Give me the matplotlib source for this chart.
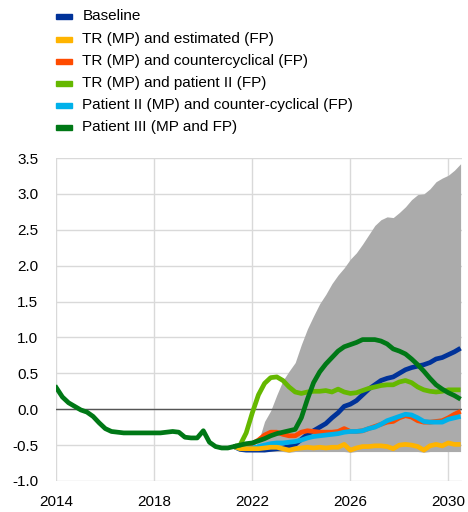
import numpy as np
import matplotlib
matplotlib.use("Agg")
import matplotlib.pyplot as plt
from matplotlib.patches import Rectangle

plt.rcParams['font.family'] = ['Liberation Sans', 'DejaVu Sans']
plt.rcParams['axes.unicode_minus'] = False

# ---------------- data ----------------
history = [0.30, 0.17, 0.09, 0.04, -0.01, -0.04, -0.10, -0.19, -0.27, -0.31,
           -0.32, -0.33, -0.33, -0.33, -0.33, -0.33, -0.33, -0.33, -0.32, -0.31,
           -0.32, -0.39, -0.40, -0.40, -0.30, -0.46, -0.52, -0.54, -0.54, -0.52]
history_start = 2014.0
proj_start = 2021.25

baseline = [-0.52, -0.56, -0.57, -0.57, -0.57, -0.57, -0.56, -0.55, -0.54, -0.52,
            -0.49, -0.42, -0.35, -0.30, -0.25, -0.20, -0.12, -0.05, 0.04, 0.07,
            0.12, 0.20, 0.28, 0.34, 0.40, 0.43, 0.45, 0.50, 0.55, 0.58,
            0.60, 0.62, 0.65, 0.70, 0.72, 0.76, 0.80, 0.85]
tr_estimated = [-0.52, -0.55, -0.55, -0.55, -0.55, -0.54, -0.53, -0.53, -0.55, -0.57,
                -0.55, -0.54, -0.53, -0.54, -0.53, -0.54, -0.53, -0.53, -0.49, -0.57,
                -0.54, -0.52, -0.52, -0.51, -0.51, -0.52, -0.55, -0.50, -0.49, -0.50,
                -0.52, -0.57, -0.51, -0.49, -0.51, -0.47, -0.49, -0.49]
tr_countercyclical = [-0.52, -0.54, -0.52, -0.48, -0.43, -0.36, -0.32, -0.32, -0.35, -0.37,
                      -0.37, -0.32, -0.30, -0.31, -0.32, -0.32, -0.32, -0.31, -0.27, -0.31,
                      -0.31, -0.30, -0.27, -0.24, -0.21, -0.18, -0.17, -0.12, -0.09, -0.11,
                      -0.16, -0.18, -0.18, -0.17, -0.16, -0.12, -0.07, -0.03]
tr_patient2 = [-0.52, -0.50, -0.33, -0.05, 0.20, 0.36, 0.44, 0.45, 0.40, 0.31,
               0.24, 0.22, 0.24, 0.25, 0.25, 0.26, 0.24, 0.28, 0.24, 0.22,
               0.23, 0.26, 0.29, 0.31, 0.33, 0.34, 0.34, 0.38, 0.40, 0.37,
               0.31, 0.27, 0.25, 0.24, 0.25, 0.27, 0.27, 0.27]
patient2_cc = [-0.52, -0.55, -0.55, -0.54, -0.52, -0.50, -0.48, -0.47, -0.47, -0.46,
               -0.45, -0.43, -0.40, -0.38, -0.37, -0.36, -0.35, -0.34, -0.32, -0.31,
               -0.31, -0.30, -0.27, -0.25, -0.21, -0.16, -0.13, -0.10, -0.07, -0.08,
               -0.12, -0.17, -0.18, -0.18, -0.18, -0.14, -0.12, -0.10]
patient3 = [-0.52, -0.50, -0.48, -0.47, -0.44, -0.41, -0.37, -0.34, -0.32, -0.30,
            -0.28, -0.12, 0.14, 0.37, 0.52, 0.63, 0.72, 0.81, 0.87, 0.90,
            0.93, 0.97, 0.97, 0.97, 0.95, 0.91, 0.84, 0.81, 0.77, 0.70,
            0.62, 0.53, 0.43, 0.34, 0.28, 0.23, 0.19, 0.14]
band_upper = [-0.52, -0.56, -0.57, -0.57, -0.45, -0.17, -0.02, 0.20, 0.40, 0.53,
              0.65, 0.90, 1.12, 1.30, 1.47, 1.60, 1.75, 1.87, 1.97, 2.09,
              2.18, 2.30, 2.43, 2.56, 2.64, 2.68, 2.67, 2.74, 2.82, 2.92,
              2.99, 3.00, 3.07, 3.17, 3.22, 3.26, 3.33, 3.42]
band_lower = [-0.52, -0.57, -0.58, -0.59, -0.59, -0.59, -0.59, -0.59, -0.59, -0.60,
              -0.59, -0.59, -0.59, -0.59, -0.59, -0.59, -0.59, -0.59, -0.59, -0.60,
              -0.59, -0.59, -0.59, -0.59, -0.59, -0.59, -0.59, -0.59, -0.59, -0.59,
              -0.59, -0.60, -0.59, -0.59, -0.59, -0.59, -0.59, -0.59]

labels = ["Baseline", "TR (MP) and estimated (FP)", "TR (MP) and countercyclical (FP)",
          "TR (MP) and patient II (FP)", "Patient II (MP) and counter-cyclical (FP)",
          "Patient III (MP and FP)"]
colors = ["#003299", "#ffb400", "#ff4b00", "#65b800", "#00b1ea", "#007816"]
series = [baseline, tr_estimated, tr_countercyclical, tr_patient2, patient2_cc, patient3]

xticks = [2014, 2018, 2022, 2026, 2030]
yticks = [-1.0, -0.5, 0.0, 0.5, 1.0, 1.5, 2.0, 2.5, 3.0, 3.5]

# ---------------- figure ----------------
W, H = 468, 512
fig = plt.figure(figsize=(W / 100, H / 100), dpi=100)
ax = fig.add_axes([56.3 / W, 1 - 481 / H, (462.3 - 56.3) / W, (481 - 158) / H])

hist_x = history_start + 0.25 * np.arange(len(history))
proj_x = proj_start + 0.25 * np.arange(len(baseline))

ax.fill_between(proj_x, band_lower, band_upper, color="#ababab", lw=0, zorder=1)

order = [0, 2, 4, 1, 3, 5]
for i in order:
    ax.plot(proj_x, series[i], color=colors[i], lw=3.4, solid_capstyle='butt',
            solid_joinstyle='round', zorder=3 + order.index(i))
ax.plot(hist_x, history, color=colors[5], lw=3.4, solid_joinstyle='round', zorder=10)

ax.axhline(0, color="#555555", lw=1.0, zorder=2)

ax.set_xlim(2014, 2030.57)
ax.set_ylim(-1.0, 3.5)
ax.set_xticks(xticks)
ax.set_xticklabels([str(t) for t in xticks])
ax.set_yticks(yticks)
ax.set_yticklabels([f"{v:.1f}" for v in yticks])
ax.grid(True, color="#d9d9d9", lw=1.0, zorder=0)
ax.set_axisbelow(True)
for s in ax.spines.values():
    s.set_visible(False)
ax.tick_params(length=0, labelsize=11, colors="#000000", pad=10)
ax.tick_params(axis='y', pad=13)

# legend (manual)
leg_y = [16, 39, 61, 83, 105, 127]
for lab, col, yy in zip(labels, colors, leg_y):
    fig.patches.append(Rectangle((56 / W, 1 - (yy + 2.5) / H), 16 / W, 5 / H,
                                 transform=fig.transFigure, color=col, figure=fig))
    fig.text(82.5 / W, 1 - yy / H, lab, fontsize=11, va='center', ha='left', color="#000000")

fig.savefig("out.png", dpi=100)
